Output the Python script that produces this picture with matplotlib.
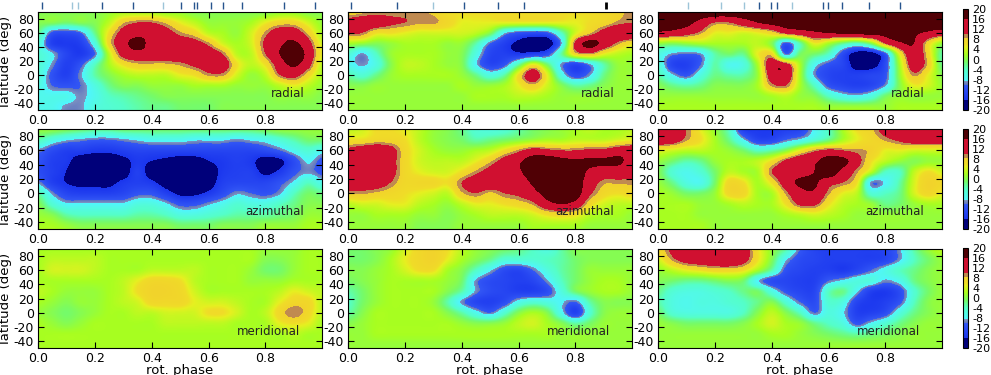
import numpy as np
import matplotlib
matplotlib.use('Agg')
import matplotlib.pyplot as plt
from matplotlib.colors import LinearSegmentedColormap, Normalize
from matplotlib.cm import ScalarMappable

plt.rcParams['axes.unicode_minus'] = False
plt.rcParams['font.family'] = 'DejaVu Sans'

W, H = 991.0, 375.0

# lignes : latitude 90 -> -45 par pas de 15, colonnes : phase 0 -> 1 par pas de 0.05
radial_1 = [
    [0, 0, 0, 0, 0, 1, 2, 2, 2, 1, 1, 0, 0, 0, 0, 0, 0, 1, 1, 0, 0],
    [0, 0, -1, 0, 0, 3, 8, 10, 10, 8, 5, 3, 1, 1, 1, 2, 5, 7, 7, 4, 1],
    [-2, -11, -12, -10, -2, 6, 12, 14, 14, 12, 9, 7, 3, 2, 1, 4, 9, 13, 13, 8, 2],
    [-5, -14, -15, -14, -6, 7, 14, 18, 14, 13, 13, 12, 9, 4, 2, 4, 11, 15, 17, 12, 4],
    [-5, -8, -13, -15, -10, 3, 12, 14, 14, 14, 14, 14, 13, 10, 3, 3, 10, 16, 20, 14, 5],
    [-5, -9, -14, -11, -4, 2, 6, 8, 8, 8, 9, 11, 13, 13, 6, 3, 6, 13, 17, 12, 3],
    [-5, -11, -14, -9, -3, 0, 2, 3, 3, 3, 5, 6, 9, 9, 4, 1, 3, 10, 12, 7, 2],
    [-6, -10, -11, -10, -6, -2, 0, 0, 1, 1, 1, 2, 2, 2, 1, 1, 1, 3, 5, 3, 1],
    [-7, -7, -7, -9, -7, -4, -3, -2, -1, 0, 0, 0, 0, 0, 0, 0, 0, 1, 1, 1, 0],
    [-7, -7, -9, -9, -6, -5, -4, -3, -2, -2, -1, -1, -1, 0, 0, 0, 0, 0, 0, 0, 0],
]
radial_2 = [
    [7, 8, 9, 9, 9, 9, 8, 6, 6, 6, 6, 6, 6, 6, 6, 6, 6, 6, 7, 8, 9],
    [12, 13, 13, 11, 10, 9, 9, 7, 5, 5, 5, 5, 5, 5, 5, 5, 5, 6, 7, 9, 10],
    [11, 10, 6, 6, 5, 4, 4, 4, 4, 3, 0, -8, -11, -12, -11, -4, 4, 8, 12, 15, 15],
    [2, 1, 0, 1, 2, 2, 2, 1, 1, -3, -10, -14, -17, -19, -19, -9, 11, 18, 14, 9, 6],
    [-5, -9, -4, 1, 2, 2, 2, 1, 0, -6, -13, -14, -15, -14, -12, -3, 7, 9, 5, 3, 2],
    [-7, -9, -6, 0, 3, 3, 2, 1, 0, -8, -13, -11, -3, 5, -1, -9, -13, -9, -3, 1, 1],
    [-3, -5, -2, 1, 2, 2, 2, 2, 1, -2, -6, -3, 6, 13, 5, -6, -12, -9, -2, 1, 1],
    [0, 0, 1, 1, 1, 1, 1, 1, 2, 1, 1, 2, 5, 8, 4, 0, -3, -2, 0, 1, 1],
    [1, 1, 1, 1, 1, 1, 1, 1, 1, 2, 2, 2, 3, 3, 2, 1, 1, 1, 1, 1, 1],
    [1, 1, 1, 1, 1, 1, 1, 1, 1, 1, 1, 1, 1, 1, 1, 1, 1, 1, 1, 1, 1],
]
radial_3 = [
    [20, 20, 20, 20, 20, 20, 20, 20, 20, 20, 20, 20, 20, 20, 20, 20, 20, 20, 20, 20, 20],
    [19, 19, 18, 14, 10, 10, 13, 16, 18, 19, 20, 20, 20, 20, 20, 20, 20, 20, 20, 20, 20],
    [15, 14, 12, 9, 5, 5, 4, 5, 7, 11, 13, 15, 16, 17, 18, 18, 18, 19, 17, 15, 13],
    [1, 0, 1, 2, 2, 2, 2, 3, 0, -11, -3, 5, 2, -2, -4, 0, 10, 15, 16, 7, 1],
    [-6, -9, -10, -9, -3, -1, -2, 5, 7, -10, -1, -1, -4, -12, -18, -18, -11, 5, 14, 7, -3],
    [-5, -13, -14, -10, -3, -7, -6, 2, 14, 12, 2, -7, -11, -13, -18, -18, -12, 2, 13, 8, -2],
    [-3, -8, -11, -6, -2, -3, -3, 1, 13, 14, 2, -9, -13, -14, -14, -13, -11, 1, 9, 5, 0],
    [0, -2, -3, -2, 0, 0, 0, 2, 9, 10, 2, -4, -11, -13, -14, -13, -9, 0, 5, 4, 1],
    [1, 1, 1, 1, 1, 1, 1, 1, 2, 3, 1, 0, -4, -7, -8, -6, -1, 1, 1, 1, 1],
    [2, 2, 2, 2, 2, 2, 2, 2, 2, 2, 2, 2, 1, 1, 1, 1, 1, 2, 2, 2, 2],
]
azimuthal_1 = [
    [1, 1, 0, -1, -2, -2, -1, -1, -1, -1, -1, -1, -1, -1, -1, -1, 0, 1, 1, 1, 1],
    [-3, -6, -8, -9, -10, -10, -9, -8, -7, -7, -7, -8, -8, -8, -9, -8, -7, -5, -3, -1, -1],
    [-9, -12, -14, -14, -15, -15, -14, -13, -13, -13, -13, -13, -13, -13, -13, -13, -12, -10, -7, -5, -7],
    [-11, -14, -15, -18, -18, -18, -17, -15, -16, -17, -18, -18, -16, -15, -14, -15, -18, -17, -12, -8, -11],
    [-12, -14, -16, -19, -19, -19, -18, -14, -18, -20, -20, -20, -18, -15, -14, -14, -17, -15, -11, -9, -11],
    [-9, -14, -16, -17, -17, -17, -15, -14, -15, -18, -19, -20, -18, -14, -13, -13, -13, -11, -8, -4, -7],
    [-3, -9, -13, -14, -14, -14, -13, -11, -11, -14, -17, -17, -15, -12, -9, -10, -11, -9, -4, -1, -2],
    [0, -5, -8, -8, -8, -8, -8, -6, -6, -8, -11, -11, -9, -7, -5, -6, -6, -4, -2, 0, 0],
    [1, 0, -3, -4, -4, -4, -4, -3, -3, -4, -6, -6, -5, -4, -3, -3, -3, -2, -1, 1, 1],
    [2, 2, 1, 0, 0, 0, 0, 0, 0, 0, -1, -1, -1, 0, 0, 0, 1, 1, 1, 2, 2],
]
azimuthal_2 = [
    [3, 4, 6, 6, 5, 3, 1, 0, -2, -5, -6, -5, -3, -1, 0, 1, 2, 3, 2, 2, 3],
    [6, 6, 7, 7, 6, 3, 1, 0, -1, -3, -2, -1, 0, 1, 2, 2, 3, 3, 3, 4, 5],
    [11, 13, 14, 12, 7, 4, 2, 1, 1, 2, 3, 6, 9, 12, 11, 10, 10, 11, 11, 13, 14],
    [13, 15, 15, 12, 7, 4, 3, 3, 3, 5, 8, 12, 15, 19, 20, 18, 17, 17, 17, 17, 14],
    [14, 15, 15, 12, 7, 5, 4, 4, 6, 9, 12, 14, 15, 20, 20, 20, 19, 15, 13, 13, 12],
    [12, 13, 13, 10, 7, 7, 7, 6, 10, 13, 14, 13, 12, 17, 20, 20, 19, 13, 9, 9, 9],
    [9, 9, 8, 7, 6, 5, 4, 3, 8, 10, 8, 10, 11, 14, 18, 20, 19, 11, 7, 6, 7],
    [3, 4, 4, 5, 5, 3, 2, 1, 3, 5, 5, 6, 7, 9, 14, 16, 14, 7, 4, 3, 3],
    [1, 1, 2, 2, 2, 1, 1, 0, 1, 2, 3, 3, 3, 4, 6, 7, 6, 3, 2, 2, 1],
    [1, 1, 1, 1, 1, 0, 0, 0, 1, 1, 1, 1, 1, 2, 2, 2, 2, 1, 1, 1, 1],
]
azimuthal_3 = [
    [14, 14, 10, 5, 1, -4, -14, -15, -15, -14, -13, -8, -4, 2, 6, 8, 12, 14, 14, 14, 14],
    [14, 13, 9, 6, 2, -2, -8, -13, -13, -10, -8, -5, -2, 2, 5, 7, 9, 11, 13, 13, 13],
    [5, 4, 3, 3, 2, 1, -1, -4, -3, 0, 5, 9, 11, 10, 9, 8, 5, 5, 4, 4, 4],
    [1, -1, -3, -2, 1, 2, 2, 3, 6, 11, 14, 15, 19, 18, 12, 6, 3, 1, 0, 1, 1],
    [0, -5, -7, -5, -1, 3, 2, 2, 10, 13, 14, 16, 20, 14, 9, 3, -4, -4, 3, 6, 4],
    [1, -2, -6, -7, -1, 7, 6, 2, 6, 13, 17, 17, 12, 10, 6, -9, -8, -3, 4, 8, 7],
    [2, 1, -1, -1, 1, 7, 7, 2, 2, 9, 14, 15, 9, 5, 3, -5, -4, -2, 4, 7, 5],
    [2, 2, 2, 1, 1, 2, 3, 2, 2, 6, 11, 11, 6, 3, 2, 1, -2, -1, 1, 2, 2],
    [2, 2, 2, 1, 1, 1, 1, 1, 1, 2, 3, 4, 3, 2, 1, 1, 1, 1, 1, 1, 1],
    [2, 2, 2, 2, 1, 1, 1, 1, 1, 1, 1, 1, 1, 1, 1, 1, 1, 1, 1, 1, 1],
]
meridional_1 = [
    [2, 2, 2, 2, 2, 2, 2, 2, 2, 2, 2, 2, 2, 2, 2, 2, 1, 1, 1, 2, 2],
    [2, 3, 3, 3, 3, 2, 2, 2, 2, 2, 2, 2, 2, 2, 2, 2, 0, 0, 1, 2, 2],
    [2, 4, 4, 4, 3, 2, 2, 2, 3, 3, 3, 3, 2, 2, 2, 1, -1, -1, 1, 2, 2],
    [2, 2, 2, 2, 2, 2, 3, 5, 7, 7, 6, 3, 2, 2, 2, 1, 1, 1, 2, 2, 2],
    [3, 2, 1, 1, 1, 2, 3, 6, 8, 8, 7, 4, 2, 2, 2, 2, 2, 3, 5, 4, 3],
    [2, 1, 0, 1, 1, 2, 3, 4, 7, 7, 7, 5, 4, 4, 3, 2, 2, 5, 7, 7, 3],
    [1, 0, -1, 0, 1, 2, 2, 3, 3, 4, 4, 4, 6, 6, 4, 2, 3, 7, 10, 7, 3],
    [2, 1, 0, 1, 2, 2, 2, 2, 2, 3, 3, 3, 3, 3, 2, 2, 2, 5, 6, 5, 2],
    [2, 2, 2, 2, 2, 2, 2, 2, 2, 2, 2, 2, 2, 2, 2, 2, 2, 2, 3, 2, 2],
    [2, 2, 2, 2, 2, 2, 2, 2, 2, 2, 2, 2, 2, 2, 2, 2, 2, 2, 2, 2, 2],
]
meridional_2 = [
    [-1, -1, 0, 1, 4, 7, 8, 6, 3, 1, 0, -1, -2, -4, -6, -3, 0, 0, 0, 0, 0],
    [-1, -1, 0, 2, 5, 7, 8, 5, 2, 0, -2, -5, -5, -5, -4, -3, -1, 0, 0, 0, 0],
    [0, 0, 1, 2, 4, 6, 6, 2, 0, -4, -8, -12, -13, -10, -6, -3, -1, 1, 1, 1, 1],
    [-1, 0, 1, 2, 2, 2, 2, 1, -1, -9, -12, -13, -14, -13, -9, -4, -1, 1, 2, 2, 1],
    [-3, -1, 1, 2, 2, 2, 2, 0, -3, -9, -12, -13, -14, -14, -12, -6, -1, 1, 2, 2, 1],
    [-4, -1, 1, 2, 2, 2, 1, -3, -9, -13, -14, -12, -7, -5, -6, -8, -10, -3, 0, 0, 0],
    [-3, 0, 2, 2, 2, 2, 2, 0, -3, -7, -10, -5, 0, 2, 0, -7, -14, -5, 0, 1, 1],
    [0, 1, 2, 2, 2, 2, 2, 2, 1, 0, 0, 1, 3, 4, 2, 0, -3, -1, 1, 1, 1],
    [1, 1, 2, 2, 2, 2, 2, 2, 2, 2, 2, 2, 2, 2, 2, 1, 1, 1, 1, 1, 1],
    [1, 1, 1, 1, 1, 1, 1, 1, 1, 1, 1, 1, 1, 1, 1, 1, 1, 1, 1, 1, 1],
]
meridional_3 = [
    [7, 11, 13, 14, 15, 15, 13, 6, 1, -3, -10, -13, -14, -14, -14, -14, -13, -9, -3, 1, 3],
    [4, 9, 12, 13, 14, 15, 12, 6, 0, -8, -12, -13, -14, -14, -14, -14, -13, -9, -4, -1, 1],
    [1, 3, 5, 6, 7, 7, 6, 2, -3, -11, -13, -14, -14, -15, -13, -10, -7, -4, -2, 0, 1],
    [0, -1, -2, -2, -1, 0, -1, -8, -12, -13, -14, -14, -10, -8, -6, -6, -9, -7, -2, 0, 1],
    [-2, -5, -6, -6, -5, -4, -2, -1, -6, -11, -13, -13, -4, -2, -8, -14, -15, -12, -5, -1, 1],
    [-3, -6, -7, -6, -6, -5, -4, -2, 0, -5, -10, -12, -5, -6, -13, -15, -14, -11, -4, 0, 1],
    [-1, -5, -6, -6, -6, -6, -4, 0, 3, 0, -4, -10, -6, -8, -14, -14, -12, -6, -2, 0, 1],
    [1, 0, -1, -1, -1, -1, 0, 2, 4, 2, 1, -2, -4, -6, -11, -8, -5, -2, 0, 1, 1],
    [1, 1, 1, 1, 1, 1, 1, 1, 2, 2, 1, 0, -1, -2, -3, -2, -1, 0, 1, 1, 1],
    [1, 1, 1, 1, 1, 1, 1, 1, 1, 1, 1, 1, 1, 1, 1, 1, 1, 1, 1, 1, 1],
]

# phases observees (reperes au dessus de la premiere ligne)
phases_1 = [0.015, 0.224, 0.333, 0.502, 0.547, 0.559, 0.609, 0.652, 0.717, 0.867, 0.974]
phases_1_pale = [0.118, 0.14, 0.441]
phases_2 = [0.012, 0.174, 0.408, 0.527, 0.618]
phases_2_pale = [0.298]
phases_2_fort = [0.907]
phases_3 = [0.356, 0.399, 0.417, 0.579, 0.599, 0.646, 0.742, 0.853]
phases_3_pale = [0.106, 0.223, 0.303, 0.473]

Champs = [[radial_1, radial_2, radial_3],
          [azimuthal_1, azimuthal_2, azimuthal_3],
          [meridional_1, meridional_2, meridional_3]]
Noms = ['radial', 'azimuthal', 'meridional']
NomX = [0.82, 0.73, 0.70]
Reperes = [(phases_1, phases_1_pale, []), (phases_2, phases_2_pale, phases_2_fort),
           (phases_3, phases_3_pale, [])]

# bornes en pixels de l'image
ColX = [(38, 322), (348, 632), (658, 942)]
RowY = [(12, 110), (129, 229), (249, 348)]
BarY = [(9, 110), (129, 229), (248, 348)]


def Val(v):
    return (v + 20.0) / 40.0


cmap = LinearSegmentedColormap.from_list('champ', [
    (Val(-20), '#00007a'), (Val(-16), '#00007a'), (Val(-16), '#1a35ee'),
    (Val(-10), '#3357f5'), (Val(-10), '#5f74c0'), (Val(-8.5), '#7f95c0'),
    (Val(-8.5), '#50f5ff'), (Val(-4), '#55ffc8'), (Val(-1), '#75fb6a'),
    (Val(2), '#a8ff20'), (Val(5), '#e6f020'), (Val(6), '#f0dc28'),
    (Val(8.5), '#f2d22c'), (Val(8.5), '#c08a50'), (Val(10), '#c08a50'),
    (Val(10), '#d01030'), (Val(16), '#d01030'), (Val(16), '#500005'),
    (Val(20), '#500005')], N=512)
norm = Normalize(-20, 20)


def Rect(xr, yr):
    return [xr[0] / W, 1 - yr[1] / H, (xr[1] - xr[0]) / W, (yr[1] - yr[0]) / H]


fig = plt.figure(figsize=(W / 100, H / 100), dpi=100)

for r in range(3):
    for c in range(3):
        ax = fig.add_axes(Rect(ColX[c], RowY[r]))
        ax.imshow(np.array(Champs[r][c], dtype=float), cmap=cmap, norm=norm, aspect='auto',
                  interpolation='catrom', interpolation_stage='data',
                  extent=(-0.025, 1.025, -52.5, 97.5))
        ax.set_xlim(0, 0.999)
        ax.set_ylim(-50, 90)
        ax.set_xticks([0.0, 0.2, 0.4, 0.6, 0.8])
        ax.set_yticks([-40, -20, 0, 20, 40, 60, 80])
        ax.tick_params(direction='in', top=True, right=True, length=4, width=0.8, labelsize=9, pad=3)
        ax.text(NomX[r], -26, Noms[r], fontsize=8.5, color='#222222', va='center')
        if r == 2:
            ax.set_xlabel('rot. phase', fontsize=9.5, labelpad=-1)
        if c == 0:
            ax.set_ylabel('latitude (deg)', fontsize=9.5, labelpad=0)
            ax.yaxis.set_label_coords(-0.09, 0.5)
        if r == 0:
            tr = ax.get_xaxis_transform()
            fonce, pale, fort = Reperes[c]
            ax.vlines(pale, 1.03, 1.10, transform=tr, colors='#9cc4d8', lw=1, clip_on=False)
            ax.vlines(fonce, 1.03, 1.10, transform=tr, colors='#27548e', lw=1, clip_on=False)
            if fort:
                ax.vlines(fort, 1.03, 1.10, transform=tr, colors='black', lw=2, clip_on=False)

    cax = fig.add_axes(Rect((963, 968), BarY[r]))
    cb = fig.colorbar(ScalarMappable(norm=norm, cmap=cmap), cax=cax,
                      ticks=[-20, -16, -12, -8, -4, 0, 4, 8, 12, 16, 20])
    cb.ax.tick_params(length=0, labelsize=8, pad=3)
    cb.outline.set_linewidth(0.8)

fig.savefig('out.png', dpi=100)
